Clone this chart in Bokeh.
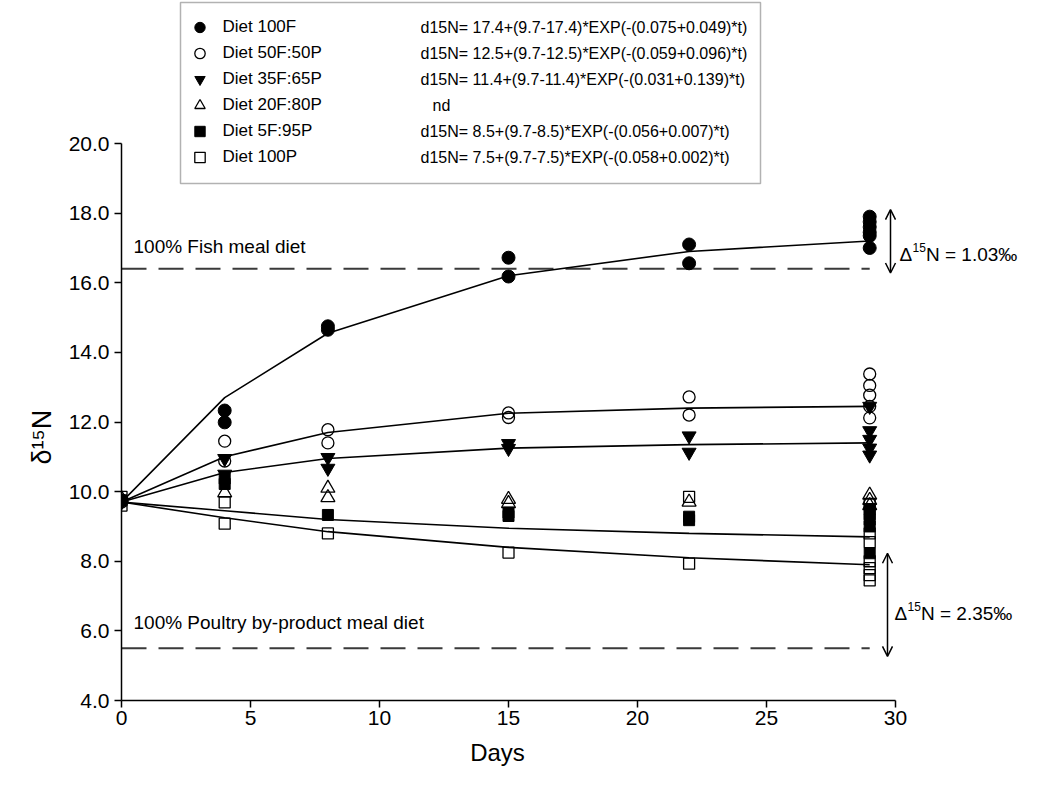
from bokeh.plotting import figure
from bokeh.models import (Range1d, FixedTicker, PrintfTickFormatter, Label, Arrow,
                          OpenHead, Legend, LegendItem, BoxAnnotation, Title)
from bokeh.embed import file_html
from bokeh.resources import INLINE

# ---------------- data ----------------
fit_days = [0, 4, 8, 15, 22, 29]
fit_100F = [9.7, 12.7, 14.55, 16.2, 16.9, 17.2]
fit_50F = [9.7, 11.0, 11.7, 12.25, 12.4, 12.45]
fit_35F = [9.7, 10.55, 10.95, 11.25, 11.35, 11.4]
fit_5F = [9.7, 9.45, 9.2, 8.95, 8.8, 8.7]
fit_100P = [9.7, 9.25, 8.85, 8.4, 8.1, 7.9]

d100F_x = [0, 4, 4, 8, 8, 15, 15, 22, 22, 29, 29, 29, 29, 29, 29]
d100F_y = [9.75, 12.33, 11.99, 14.75, 14.65, 16.72, 16.18, 17.1, 16.56, 17.9, 17.75, 17.6, 17.45, 17.35, 17.0]

d50F_x = [0, 4, 4, 8, 8, 15, 15, 22, 22, 29, 29, 29, 29, 29]
d50F_y = [9.7, 11.45, 10.88, 11.78, 11.4, 12.26, 12.13, 12.72, 12.2, 13.38, 13.05, 12.77, 12.45, 12.12]

d35F_x = [0, 4, 4, 8, 8, 15, 15, 22, 22, 29, 29, 29, 29, 29]
d35F_y = [9.7, 10.95, 10.5, 10.98, 10.67, 11.38, 11.24, 11.6, 11.13, 12.45, 11.75, 11.5, 11.25, 11.05]

d20F_x = [0, 4, 8, 8, 15, 15, 22, 29, 29, 29]
d20F_y = [9.8, 9.97, 10.1, 9.83, 9.78, 9.66, 9.7, 9.9, 9.75, 9.6]

d5F_x = [0, 4, 4, 8, 15, 15, 22, 22, 29, 29, 29, 29, 29]
d5F_y = [9.75, 10.38, 10.22, 9.33, 9.4, 9.3, 9.28, 9.18, 9.5, 9.35, 9.2, 9.0, 8.23]

d100P_x = [0, 0, 4, 4, 8, 15, 22, 22, 29, 29, 29, 29, 29, 29, 29]
d100P_y = [9.85, 9.6, 9.69, 9.08, 8.8, 8.25, 9.85, 7.93, 9.65, 8.8, 8.55, 8.0, 7.8, 7.6, 7.45]

fish_meal_level = 16.4
poultry_level = 5.5
diet_line_days = [0, 29]

x_ticks = [0, 5, 10, 15, 20, 25, 30]
y_ticks = [4, 6, 8, 10, 12, 14, 16, 18, 20]

legend_names = ["Diet 100F", "Diet 50F:50P", "Diet 35F:65P", "Diet 20F:80P", "Diet 5F:95P", "Diet 100P"]
equations = ["d15N= 17.4+(9.7-17.4)*EXP(-(0.075+0.049)*t)",
             "d15N= 12.5+(9.7-12.5)*EXP(-(0.059+0.096)*t)",
             "d15N= 11.4+(9.7-11.4)*EXP(-(0.031+0.139)*t)",
             "nd",
             "d15N= 8.5+(9.7-8.5)*EXP(-(0.056+0.007)*t)",
             "d15N= 7.5+(9.7-7.5)*EXP(-(0.058+0.002)*t)"]

# ---------------- layout ----------------
W, H = 1020, 775
FL = 121                  # canvas x of day 0
FBOT = 700                # canvas y of 4.0
PX_DAY = 25.8
PX_UNIT = 34.81
x_end = (W - FL) / PX_DAY
y_end = 4 + FBOT / PX_UNIT


def sx(px):   # canvas x -> data x
    return (px - FL) / PX_DAY


def sy(py):   # canvas y -> data y
    return 4 + (FBOT - py) / PX_UNIT


SANS = "Liberation Sans"

p = figure(width=W, height=H, x_range=Range1d(0, x_end), y_range=Range1d(4, y_end),
           output_backend="svg", toolbar_location=None,
           min_border_left=FL, min_border_right=0, min_border_top=0, min_border_bottom=H - FBOT)
p.outline_line_color = None
p.xgrid.visible = False
p.ygrid.visible = False
p.background_fill_color = "white"
p.border_fill_color = "white"

for ax in (p.xaxis, p.yaxis):
    ax.axis_line_width = 1.5
    ax.axis_line_color = "black"
    ax.major_tick_line_width = 1.5
    ax.major_tick_line_color = "black"
    ax.major_tick_out = 7
    ax.major_tick_in = 0
    ax.minor_tick_out = 0
    ax.minor_tick_in = 0
    ax.major_label_text_font = SANS
    ax.major_label_text_font_size = "21px"
    ax.major_label_text_color = "black"

p.xaxis.ticker = FixedTicker(ticks=x_ticks)
p.xaxis.bounds = (0, 30)
p.xaxis.major_label_standoff = 3

p.yaxis.ticker = FixedTicker(ticks=y_ticks)
p.yaxis.formatter = PrintfTickFormatter(format="%.1f")
p.yaxis.bounds = (4, 20)
p.yaxis.major_label_standoff = 5

# axis titles as panel titles (placed along the axis)
days_w = 2.278 * 24
p.add_layout(Title(text="Days", align="left", offset=497 - FL - days_w / 2, text_font=SANS,
                   text_font_size="24px", text_font_style="normal", text_color="black",
                   standoff=18), "below")
p.add_layout(Title(text="\u03b4\u00b9\u2075N", align="left", offset=FBOT - 464, text_font=SANS,
                   text_font_size="27px", text_font_style="normal", text_color="black",
                   standoff=17), "left")

# diet reference dashed lines
for lvl in (fish_meal_level, poultry_level):
    p.line(diet_line_days, [lvl, lvl], line_color="#3a3a3a", line_width=2, line_dash="25 12")

# fitted curves
for f in (fit_100F, fit_50F, fit_35F, fit_5F, fit_100P):
    p.line(fit_days, f, line_color="black", line_width=1.6)

# scatter
r1 = p.scatter(d100F_x, d100F_y, marker="circle", size=13, fill_color="black", line_color="black")
r2 = p.scatter(d50F_x, d50F_y, marker="circle", size=12, fill_color=None, line_color="black", line_width=1.3)
r3 = p.scatter(d35F_x, d35F_y, marker="inverted_triangle", size=14, fill_color="black", line_color="black")
r4 = p.scatter(d20F_x, d20F_y, marker="triangle", size=14, fill_color=None, line_color="black", line_width=1.3)
r5 = p.scatter(d5F_x, d5F_y, marker="square", size=11, fill_color="black", line_color="black")
r6 = p.scatter(d100P_x, d100P_y, marker="square", size=11, fill_color=None, line_color="black", line_width=1.3)

# legend frame
p.add_layout(BoxAnnotation(left=sx(180), right=sx(760), top=sy(2), bottom=sy(183),
                           fill_alpha=0, line_color="black", line_width=1.5))

# legend entries (border-less legend inside the frame)
PAD, ROW, GW = 9, 26, 27
ROW0 = 26.5                            # canvas y of the first row centre
leg_left = 199 - PAD - GW / 2
leg_top = ROW0 - ROW / 2 - PAD
leg_bottom = leg_top + 2 * PAD + 6 * ROW
items = [LegendItem(label=n, renderers=[r]) for n, r in zip(legend_names, [r1, r2, r3, r4, r5, r6])]
legend = Legend(items=items, location=(leg_left - FL, FBOT - leg_bottom), orientation="vertical",
                border_line_alpha=0, background_fill_alpha=0.0,
                padding=PAD, spacing=0, margin=0,
                glyph_width=GW, glyph_height=ROW, label_height=ROW, label_width=100,
                label_standoff=10, label_text_font=SANS, label_text_font_size="17px",
                label_text_color="black")
p.add_layout(legend)

for i, eq in enumerate(equations):
    xx = 432 if eq == "nd" else 420
    p.add_layout(Label(x=sx(xx), y=sy(ROW0 + ROW * i), text=eq, text_font=SANS,
                       text_font_size="16px", text_align="left", text_baseline="middle",
                       text_color="black"))

# diet labels
p.add_layout(Label(x=sx(133), y=sy(246), text="100% Fish meal diet", text_font=SANS,
                   text_font_size="19px", text_align="left", text_baseline="middle", text_color="black"))
p.add_layout(Label(x=sx(133), y=sy(622), text="100% Poultry by-product meal diet", text_font=SANS,
                   text_font_size="19px", text_align="left", text_baseline="middle", text_color="black"))

# double arrows
for (ax_px, y_top, y_bot) in ((890, 18.1, 16.28), (887, 8.23, 5.27)):
    p.add_layout(Arrow(x_start=sx(ax_px), y_start=y_top, x_end=sx(ax_px), y_end=y_bot,
                       start=OpenHead(size=10, line_width=1.5, line_color="black"),
                       end=OpenHead(size=10, line_width=1.5, line_color="black"),
                       line_width=1.5, line_color="black"))


def delta_label(x_px, y_val, txt):
    p.add_layout(Label(x=sx(x_px), y=y_val, text="\u0394", text_font=SANS, text_font_size="19px",
                       text_align="left", text_baseline="middle", text_color="black"))
    p.add_layout(Label(x=sx(x_px + 13), y=y_val + 7 / PX_UNIT, text="15", text_font=SANS,
                       text_font_size="12px", text_align="left", text_baseline="middle", text_color="black"))
    p.add_layout(Label(x=sx(x_px + 26.5), y=y_val, text=txt, text_font=SANS, text_font_size="19px",
                       text_align="left", text_baseline="middle", text_color="black"))


delta_label(899, 16.8, "N = 1.03\u2030")
delta_label(894, 6.5, "N = 2.35\u2030")

open("out.html", "w").write(file_html(p, INLINE))
